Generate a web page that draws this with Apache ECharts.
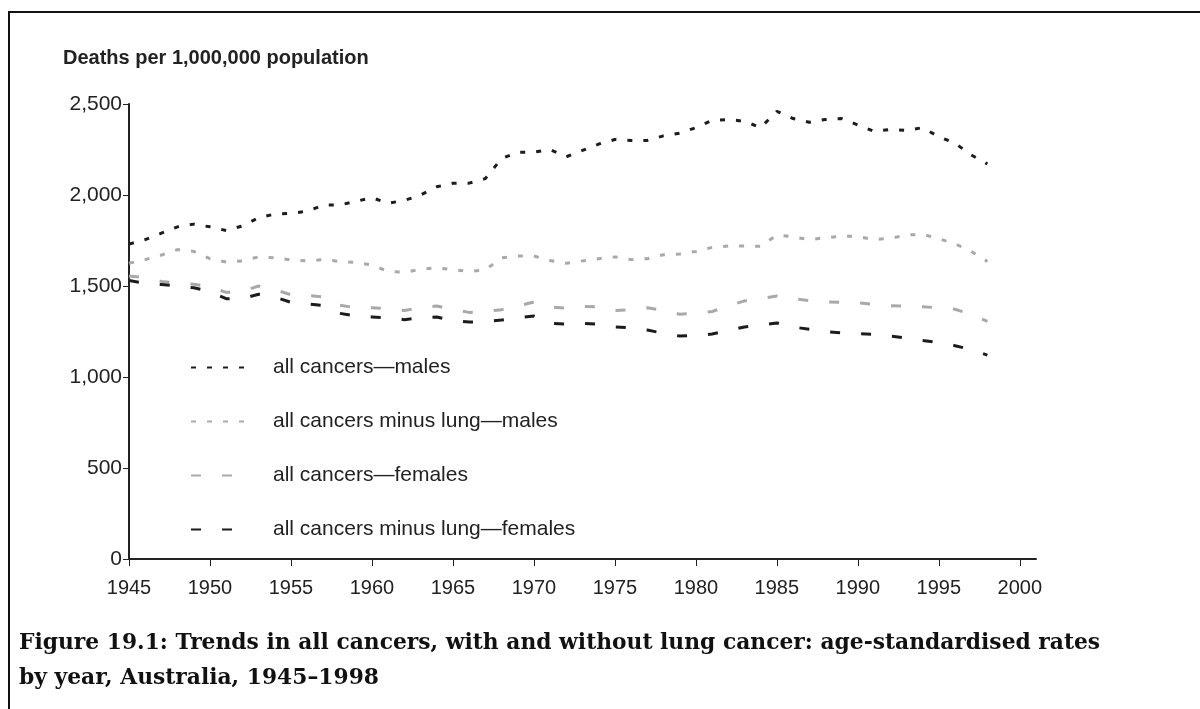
<!DOCTYPE html>
<html>
<head>
<meta charset="utf-8">
<title>Trends in all cancers</title>
<script src="https://cdn.jsdelivr.net/npm/echarts@6/dist/echarts.min.js"></script>
<style>
  html, body { margin: 0; padding: 0; background: #fff; }
  #chart { width: 1200px; height: 709px; }
</style>
</head>
<body>
<div id="chart"></div>
<script>
// years 1945-1998
var years = [1945, 1946, 1947, 1948, 1949, 1950, 1951, 1952, 1953, 1954,
  1955, 1956, 1957, 1958, 1959, 1960, 1961, 1962, 1963, 1964,
  1965, 1966, 1967, 1968, 1969, 1970, 1971, 1972, 1973, 1974,
  1975, 1976, 1977, 1978, 1979, 1980, 1981, 1982, 1983, 1984,
  1985, 1986, 1987, 1988, 1989, 1990, 1991, 1992, 1993, 1994,
  1995, 1996, 1997, 1998]

// deaths per 1,000,000
var allMales = [1730, 1755, 1790, 1825, 1840, 1825, 1805, 1830, 1875, 1895,
  1900, 1910, 1945, 1945, 1965, 1985, 1955, 1970, 2000, 2045,
  2065, 2065, 2090, 2200, 2235, 2235, 2250, 2210, 2245, 2280,
  2305, 2300, 2300, 2325, 2340, 2370, 2410, 2415, 2405, 2370,
  2460, 2420, 2400, 2415, 2420, 2385, 2350, 2360, 2355, 2370,
  2320, 2285, 2220, 2170]
var noLungMales = [1625, 1645, 1670, 1700, 1690, 1650, 1632, 1638, 1660, 1655,
  1643, 1638, 1645, 1635, 1630, 1615, 1580, 1575, 1592, 1600,
  1590, 1580, 1588, 1655, 1665, 1665, 1640, 1625, 1638, 1650,
  1660, 1645, 1650, 1672, 1676, 1690, 1712, 1720, 1720, 1718,
  1780, 1770, 1755, 1765, 1774, 1772, 1755, 1762, 1780, 1784,
  1760, 1732, 1690, 1635]
var allFemales = [1555, 1545, 1525, 1515, 1510, 1495, 1465, 1470, 1500, 1480,
  1452, 1448, 1440, 1395, 1380, 1380, 1375, 1365, 1380, 1390,
  1370, 1355, 1360, 1370, 1390, 1412, 1385, 1378, 1388, 1385,
  1365, 1370, 1380, 1365, 1345, 1350, 1360, 1390, 1418, 1430,
  1445, 1430, 1420, 1412, 1410, 1407, 1400, 1392, 1390, 1386,
  1380, 1372, 1345, 1305]
var noLungFemales = [1530, 1515, 1508, 1500, 1490, 1470, 1430, 1430, 1455, 1440,
  1410, 1402, 1392, 1350, 1335, 1330, 1325, 1315, 1325, 1330,
  1310, 1302, 1305, 1313, 1325, 1335, 1295, 1290, 1295, 1290,
  1275, 1270, 1258, 1240, 1225, 1228, 1236, 1255, 1275, 1285,
  1297, 1275, 1262, 1250, 1242, 1238, 1235, 1225, 1214, 1200,
  1190, 1172, 1150, 1120]

var xTicks = [1945, 1950, 1955, 1960, 1965, 1970, 1975, 1980, 1985, 1990, 1995, 2000]
var seriesNames = ['all cancers\u2014males', 'all cancers minus lung\u2014males',
  'all cancers\u2014females', 'all cancers minus lung\u2014females']

var black = '#1c1c1c'
var grey = '#a9a9a9'
var font = '"Liberation Sans", Arial, sans-serif'

function pairs(vals) {
  return years.map(function (y, i) { return [y, vals[i]] })
}

function lineSeries(name, vals, color, dash, width) {
  return {
    name: name,
    type: 'line',
    data: pairs(vals),
    symbol: 'none',
    smooth: false,
    color: color,
    lineStyle: { color: color, width: width, type: dash, cap: 'butt' },
    emphasis: { disabled: true }
  }
}

var chart = echarts.init(document.getElementById('chart'))
chart.setOption({
  animation: false,
  grid: { left: 129, right: 164, top: 104, bottom: 150 },
  legend: {
    orient: 'vertical',
    left: 190,
    top: 357,
    padding: 0,
    itemWidth: 56,
    itemHeight: 14,
    itemGap: 33,
    data: seriesNames,
    itemStyle: { opacity: 0 },
    textStyle: { fontFamily: font, fontSize: 21, color: '#222', padding: [0, 0, 0, 21] }
  },
  xAxis: {
    type: 'value',
    min: 1945,
    max: 2001,
    interval: 5,
    splitLine: { show: false },
    axisLine: { lineStyle: { color: '#222', width: 2 } },
    axisTick: { length: 7, customValues: xTicks, lineStyle: { color: '#222', width: 1 } },
    axisLabel: {
      customValues: xTicks,
      margin: 19,
      fontFamily: font,
      fontSize: 20,
      color: '#222',
      formatter: function (v) { return String(v) }
    }
  },
  yAxis: {
    type: 'value',
    min: 0,
    max: 2500,
    interval: 500,
    splitLine: { show: false },
    axisLine: { show: true, lineStyle: { color: '#222', width: 2 } },
    axisTick: { show: true, length: 6, lineStyle: { color: '#222', width: 1 } },
    axisLabel: {
      margin: 7,
      fontFamily: font,
      fontSize: 21,
      color: '#222',
      formatter: function (v) { return v.toLocaleString('en-US') }
    }
  },
  graphic: [
    {
      type: 'rect',
      shape: { x: 9, y: 12, width: 1400, height: 900 },
      style: { fill: 'none', stroke: '#111', lineWidth: 2 },
      silent: true
    },
    {
      type: 'text',
      left: 63,
      top: 48,
      style: {
        text: 'Deaths per 1,000,000 population',
        font: 'bold 20px "Liberation Sans", Arial, sans-serif',
        fill: '#222'
      }
    },
    {
      type: 'text',
      left: 19,
      top: 626,
      style: {
        text: 'Figure 19.1: Trends in all cancers, with and without lung cancer: age-standardised rates\nby year, Australia, 1945\u20131998',
        font: 'bold 21.8px "DejaVu Serif", "Liberation Serif", serif',
        lineHeight: 35,
        fill: '#111'
      }
    }
  ],
  series: [
    lineSeries(seriesNames[0], allMales, black, [5, 11], 3),
    lineSeries(seriesNames[1], noLungMales, grey, [5, 11], 3),
    lineSeries(seriesNames[2], allFemales, grey, [10, 21], 3),
    lineSeries(seriesNames[3], noLungFemales, black, [10, 21], 3)
  ]
})
</script>
</body>
</html>
